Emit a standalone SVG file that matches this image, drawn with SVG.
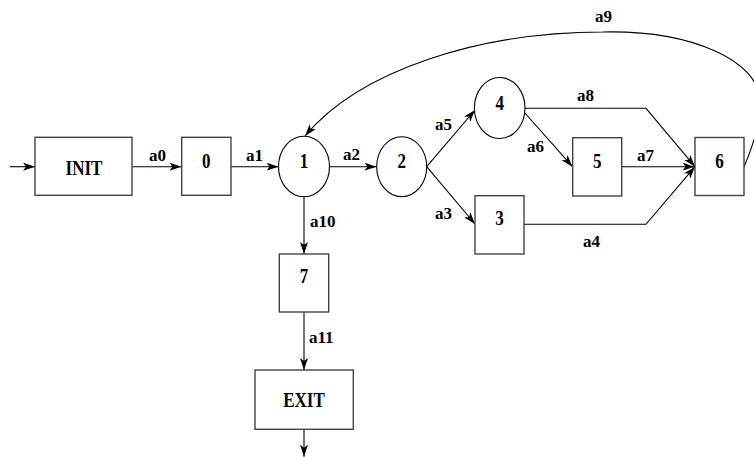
<svg xmlns="http://www.w3.org/2000/svg" width="754" height="457" viewBox="0 0 754 457">
  <style>
    .box { fill: #fff; stroke: #444; stroke-width: 1.4; }
    .state { fill: #fff; stroke: #000; stroke-width: 1.1; }
    .edge { fill: none; stroke: #000; stroke-width: 1.1; marker-end: url(#arrow); }
    .plain { fill: none; stroke: #000; stroke-width: 1.1; }
    .nlabel { font-family: "Liberation Serif", "Times New Roman", serif; font-weight: bold; font-size: 17px; text-anchor: middle; fill: #000; }
    .elabel { font-family: "Liberation Serif", "Times New Roman", serif; font-weight: bold; font-size: 17px; fill: #000; }
  </style>
  <defs>
    <marker id="arrow" markerUnits="userSpaceOnUse" markerWidth="13" markerHeight="9" refX="12" refY="4" orient="auto">
      <path d="M0,0 L12,4 L0,8 L3,4 Z" fill="#000"/>
    </marker>
  </defs>

  <rect width="754" height="457" fill="#fff"/>

  <!-- connectors -->
  <g id="connectors">
    <line class="edge" x1="10" y1="166.7" x2="35" y2="166.7"/>
    <line class="edge" x1="132" y1="166.7" x2="181.5" y2="166.7"/>
    <line class="edge" x1="231" y1="166.7" x2="278.5" y2="166.7"/>
    <line class="edge" x1="329.5" y1="166.7" x2="376.5" y2="166.7"/>
    <line class="edge" x1="426.7" y1="166.7" x2="475" y2="110"/>
    <line class="edge" x1="426.7" y1="166.7" x2="475" y2="224"/>
    <line class="edge" x1="524" y1="112" x2="572.5" y2="166.7"/>
    <polyline class="edge" points="525,108.3 646,108.3 695,166.7"/>
    <line class="edge" x1="621.7" y1="166.7" x2="694.5" y2="166.7"/>
    <polyline class="edge" points="524,224.3 646,224.3 695,166.7"/>
    <path class="edge" d="M744,167 C752,148 762,122 760,100 C758,60 690,30 603,32 C480,32 360,70 305,136"/>
    <line class="edge" x1="304" y1="196.7" x2="304" y2="254"/>
    <line class="edge" x1="304" y1="312" x2="304" y2="370"/>
    <line class="edge" x1="304" y1="429.3" x2="304" y2="456.7"/>

    <text class="elabel" x="149" y="161">a0</text>
    <text class="elabel" x="246" y="161">a1</text>
    <text class="elabel" x="343" y="160">a2</text>
    <text class="elabel" x="435" y="130">a5</text>
    <text class="elabel" x="435" y="218.5">a3</text>
    <text class="elabel" x="527" y="152">a6</text>
    <text class="elabel" x="577" y="101">a8</text>
    <text class="elabel" x="637" y="161">a7</text>
    <text class="elabel" x="583" y="247">a4</text>
    <text class="elabel" x="595" y="22">a9</text>
    <text class="elabel" x="310" y="227">a10</text>
    <text class="elabel" x="309" y="343">a11</text>
  </g>

  <!-- nodes -->
  <g id="node-init">
    <rect class="box" x="35" y="137.3" width="97" height="58"/>
    <text class="nlabel" transform="translate(84,175) scale(1,1.2)">INIT</text>
  </g>
  <g id="node-0">
    <rect class="box" x="181.7" y="137.3" width="49.3" height="58"/>
    <text class="nlabel" transform="translate(206.3,168) scale(1,1.2)">0</text>
  </g>
  <g id="node-1">
    <ellipse class="state" cx="304" cy="166.5" rx="25.5" ry="30.3"/>
    <text class="nlabel" transform="translate(304,167.7) scale(1,1.2)">1</text>
  </g>
  <g id="node-2">
    <ellipse class="state" cx="401.7" cy="166.7" rx="25" ry="30"/>
    <text class="nlabel" transform="translate(401.7,168.3) scale(1,1.2)">2</text>
  </g>
  <g id="node-4">
    <ellipse class="state" cx="499.7" cy="108" rx="25.3" ry="30.5"/>
    <text class="nlabel" transform="translate(499.7,110) scale(1,1.2)">4</text>
  </g>
  <g id="node-3">
    <rect class="box" x="475" y="195.7" width="49" height="58.3"/>
    <text class="nlabel" transform="translate(499.5,225) scale(1,1.2)">3</text>
  </g>
  <g id="node-5">
    <rect class="box" x="572.7" y="137.7" width="49" height="58.3"/>
    <text class="nlabel" transform="translate(597.2,168.3) scale(1,1.2)">5</text>
  </g>
  <g id="node-6">
    <rect class="box" x="695" y="137.5" width="49" height="58"/>
    <text class="nlabel" transform="translate(719.5,168.3) scale(1,1.2)">6</text>
  </g>
  <g id="node-7">
    <rect class="box" x="279.3" y="254" width="49.4" height="58"/>
    <text class="nlabel" transform="translate(304,283.3) scale(1,1.2)">7</text>
  </g>
  <g id="node-exit">
    <rect class="box" x="255" y="370" width="98.3" height="59.3"/>
    <text class="nlabel" transform="translate(304,406.7) scale(1,1.2)">EXIT</text>
  </g>
</svg>
